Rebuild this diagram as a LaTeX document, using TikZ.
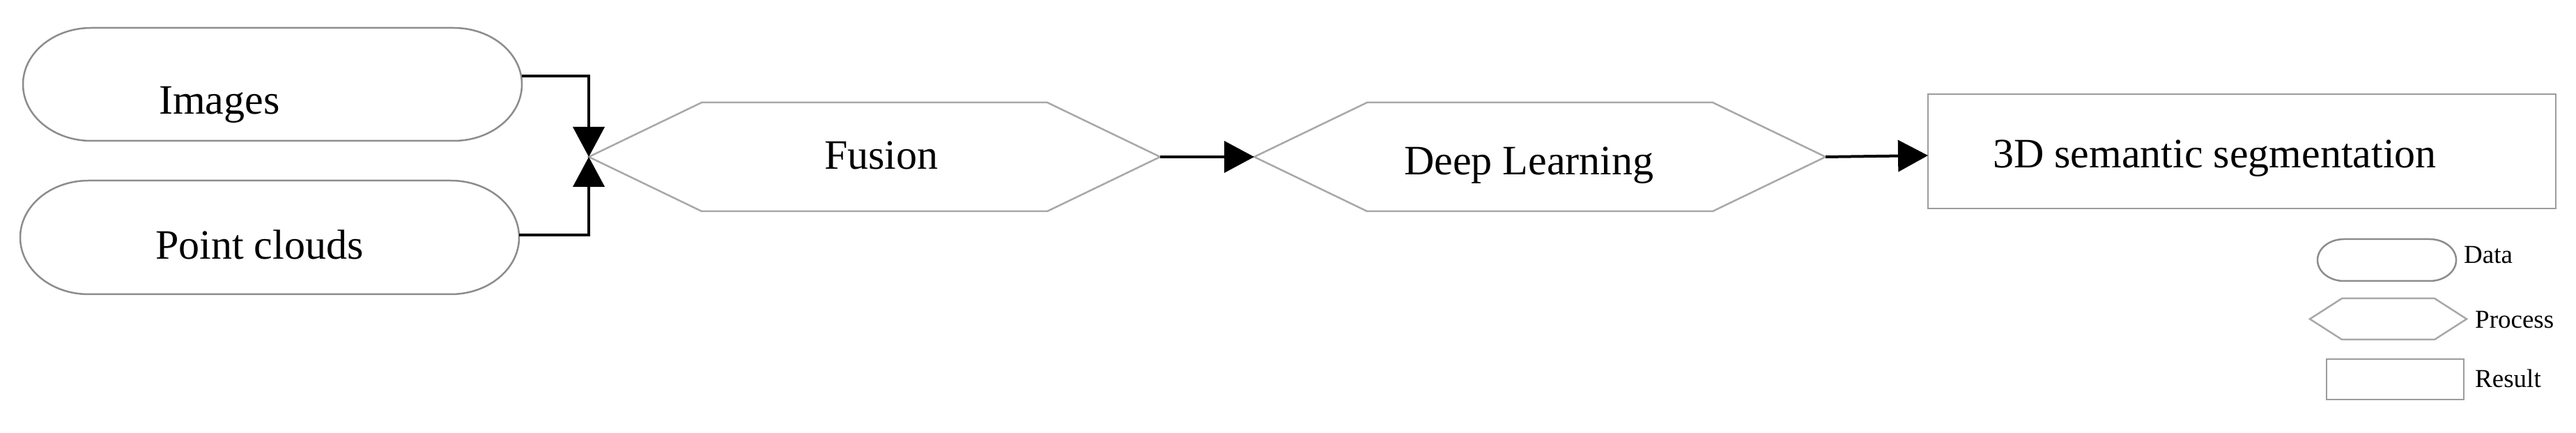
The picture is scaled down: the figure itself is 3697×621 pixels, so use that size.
\documentclass[tikz,border=0pt]{standalone}
\usepackage{fontspec}
\setmainfont{Liberation Serif}
\usetikzlibrary{arrows.meta}
\definecolor{pillgray}{HTML}{8C8C8C}
\definecolor{hexgray}{HTML}{A8A8A8}
\definecolor{boxgray}{HTML}{9C9C9C}
\tikzset{
  frame/.style={draw=none, inner sep=0pt, outer sep=0pt, rectangle},
  pillline/.style={draw=pillgray, line width=2.5pt},
  hexline/.style={draw=hexgray, line width=2.5pt},
  boxline/.style={draw=boxgray, line width=2.5pt},
  conn/.style={draw=black, line width=4pt, -{Triangle[length=43pt,width=45pt]}},
  bigtxt/.style={inner sep=0pt, anchor=base west, font=\fontsize{60}{72}\selectfont},
  legtxt/.style={inner sep=0pt, anchor=base west, font=\fontsize{37}{44}\selectfont},
}
\newcommand{\pillpath}[3]{% node, rx, ry
  \draw[pillline] ([xshift=#2]#1.north west) -- ([xshift=-#2]#1.north east)
    arc[start angle=90, end angle=-90, x radius=#2, y radius=#3]
    -- ([xshift=#2]#1.south west)
    arc[start angle=270, end angle=90, x radius=#2, y radius=#3] -- cycle;}
\newcommand{\hexpath}[2]{% node, inset
  \draw[hexline] (#1.west) -- ([xshift=#2]#1.north west) -- ([xshift=-#2]#1.north east)
    -- (#1.east) -- ([xshift=-#2]#1.south east) -- ([xshift=#2]#1.south west) -- cycle;}
\begin{document}
\begin{tikzpicture}[x=1pt, y=1pt]
\useasboundingbox (0,0) rectangle (3697,621);
% main nodes
\node[frame, minimum width=716pt, minimum height=162pt] (img) at (391,500) {};
\node[frame, minimum width=716pt, minimum height=163pt] (pc) at (387,280.5) {};
\node[frame, minimum width=820pt, minimum height=156pt] (fus) at (1255,396) {};
\node[frame, minimum width=820pt, minimum height=156pt] (dl) at (2210,396) {};
\node[frame, minimum width=901pt, minimum height=164pt] (res) at (3217.5,404) {};
% shapes
\pillpath{img}{98pt}{81pt}
\pillpath{pc}{98pt}{81.5pt}
\hexpath{fus}{162pt}
\hexpath{dl}{162pt}
\draw[boxline] (res.south west) rectangle (res.north east);
% texts
\node[bigtxt] (timg) at (228,457) {Images};
\node[bigtxt] (tpc) at (223,249) {Point clouds};
\node[bigtxt] (tfus) at (1183,378) {Fusion};
\node[bigtxt] (tdl) at (2015,370) {Deep Learning};
\node[bigtxt] (tres) at (2860,380) {3D semantic segmentation};
% connectors
\draw[conn] ([yshift=12pt]img.east) -| (fus.west);
\draw[conn] ([yshift=3.5pt]pc.east) -| (fus.west);
\draw[conn] (fus.east) -- (dl.west);
\draw[conn] (dl.east) -- ([yshift=-6pt]res.west);
% legend
\node[frame, minimum width=199pt, minimum height=60pt] (ldata) at (3425.5,248) {};
\pillpath{ldata}{38pt}{30pt}
\node[frame, minimum width=225pt, minimum height=59pt] (lproc) at (3427.5,163.5) {};
\hexpath{lproc}{46pt}
\node[frame, minimum width=197pt, minimum height=58pt] (lres) at (3437.5,77) {};
\draw[boxline] (lres.south west) rectangle (lres.north east);
\node[legtxt] (tldata) at (3536,243) {Data};
\node[legtxt] (tlproc) at (3552,150) {Process};
\node[legtxt] (tlres) at (3552,65) {Result};
\end{tikzpicture}
\end{document}
